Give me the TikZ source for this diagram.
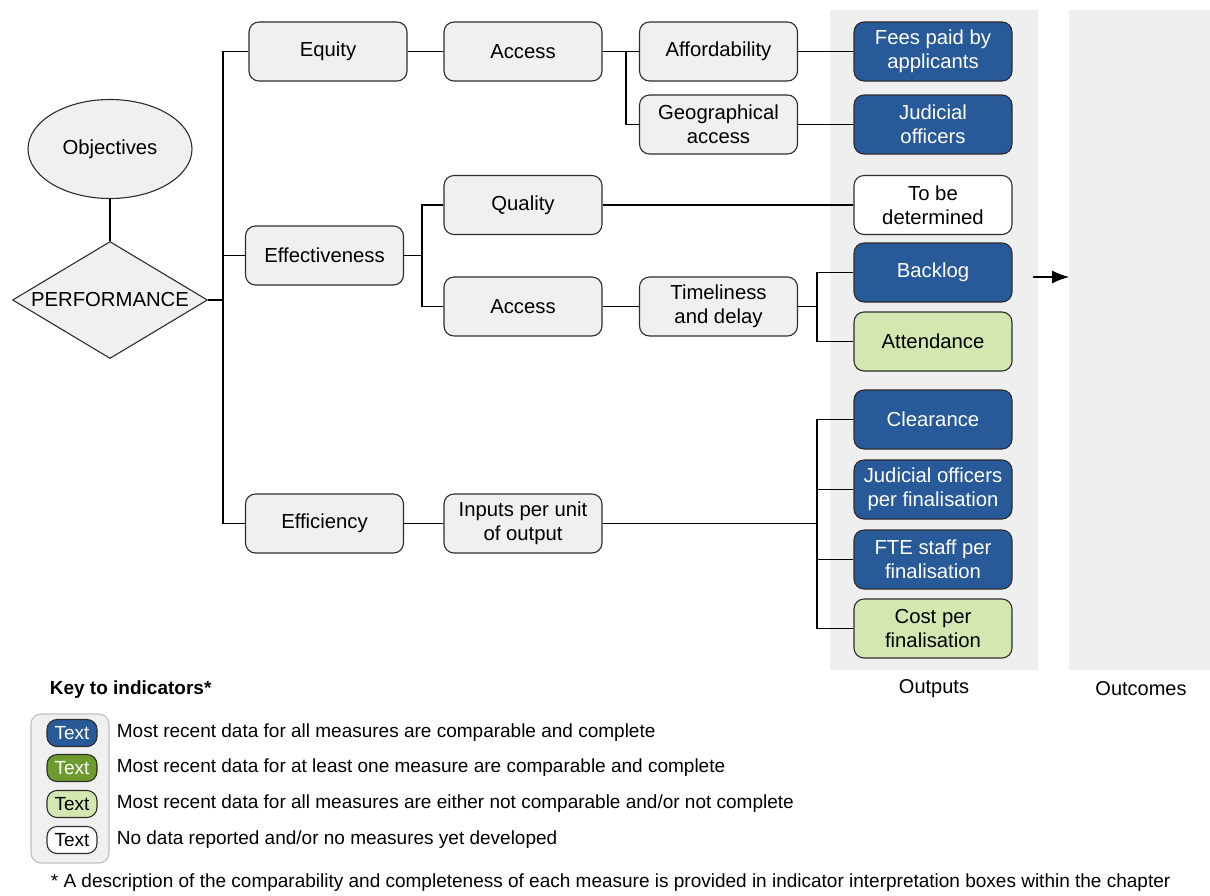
\documentclass[tikz,border=0pt]{standalone}
\usepackage{fontspec}
\setmainfont{Liberation Sans}
\usepackage{xcolor}
\usetikzlibrary{shapes.geometric}
\usetikzlibrary{arrows.meta}

\definecolor{boxgray}{RGB}{240,240,240}
\definecolor{panelgray}{RGB}{239,239,239}
\definecolor{indblue}{RGB}{40,90,153}
\definecolor{indgreen}{RGB}{110,155,45}
\definecolor{indlight}{RGB}{212,231,177}
\definecolor{edge}{RGB}{45,45,45}

\begin{document}
\begin{tikzpicture}[x=1pt,y=-1pt,line width=1.1pt,
	font=\fontsize{19}{23.5}\selectfont,
	box/.style={draw=edge,rounded corners=10,fill=boxgray,minimum width=158,minimum height=59,align=center,inner sep=2,font=\fontsize{20.3}{24}\selectfont},
	full/.style={box,fill=indblue,text=white},
	partial/.style={box,fill=indlight},
	none/.style={box,fill=white},
	chip/.style={draw=edge,rounded corners=10,minimum width=50,minimum height=27,inner sep=0}]

	\useasboundingbox (0,0) rectangle (1210,895);

	% output and outcome columns
	\fill[panelgray] (830,10) rectangle (1038,670);
	\fill[panelgray] (1069,10) rectangle (1210,670);
	\node[font=\fontsize{20}{24}\selectfont] (outputs) at (934,689) {Outputs};
	\node[font=\fontsize{20}{24}\selectfont] (outcomes) at (1141,689) {Outcomes};

	% (objectives)
	\node[ellipse,draw=edge,fill=boxgray,minimum width=164,minimum height=99,font=\fontsize{20.3}{24}\selectfont] (obj) at (110,149) {Objectives};
	\node[diamond,draw=edge,fill=boxgray,aspect=1.67,minimum width=195,minimum height=117,inner sep=0,font=\fontsize{20.3}{24}\selectfont] (perf) at (110,300) {PERFORMANCE};
	\draw (obj) -- (perf);

	% (equity)
	\node[box] (equity) at (328,51.5) {Equity};
	\node[box] (access) at (523,51.5) {Access};
	\node[box] (afford) at (718.5,51.5) {Affordability};
	\node[box] (geo) at (718.5,124.5) {Geographical\\access};
	\node[full] (fees) at (933,51.5) {Fees paid by\\applicants};
	\node[full] (judicial) at (933,124.5) {Judicial\\officers};

	% (effectiveness)
	\node[box] (effect) at (324.5,255.5) {Effectiveness};
	\node[box] (quality) at (523,205) {Quality};
	\node[none] (tbd) at (933,205) {To be\\determined};
	\node[box] (access2) at (523,306.5) {Access};
	\node[box] (timely) at (718.5,306.5) {Timeliness\\and delay};
	\node[full] (backlog) at (933,272.5) {Backlog};
	\node[partial] (attend) at (933,341.5) {Attendance};

	% (efficiency)
	\node[box] (efficiency) at (324.5,523.5) {Efficiency};
	\node[box] (inputs) at (523,523.5) {Inputs per unit\\of output};
	\node[full] (clear) at (933,419.5) {Clearance};
	\node[full] (jofinal) at (933,489.5) {Judicial officers\\per finalisation};
	\node[full] (ftefinal) at (933,559.5) {FTE staff per\\finalisation};
	\node[partial] (costfinal) at (933,628.5) {Cost per\\finalisation};

	% connectors
	\coordinate (trunk) at (223,300);
	\draw (perf.east) -- (trunk);
	\draw (trunk) |- (equity.west);
	\draw (trunk) |- (efficiency.west);
	\draw (trunk |- effect) -- (effect);

	\draw (equity) -- (access);
	\coordinate (accfork) at (626,51.5);
	\draw (access) -- (accfork) -- (afford);
	\draw (accfork) |- (geo.west);
	\draw (afford) -- (fees);
	\draw (geo) -- (judicial);

	\coordinate (effork) at (422,255.5);
	\draw (effect) -- (effork);
	\draw (effork) |- (quality.west);
	\draw (effork) |- (access2.west);
	\draw (quality) -- (tbd);
	\draw (access2) -- (timely);
	\coordinate (timefork) at (817,306.5);
	\draw (timely) -- (timefork);
	\draw (timefork) |- (backlog.west);
	\draw (timefork) |- (attend.west);

	\draw (efficiency) -- (inputs);
	\coordinate (infork) at (817,523.5);
	\draw (inputs) -- (infork);
	\foreach \n in {clear,jofinal,ftefinal,costfinal}
		\draw (infork) |- (\n.west);

	% outputs lead to outcomes
	\coordinate (arrowtail) at (1033,277);
	\coordinate (arrowhead) at (1069,277);
	\draw[-{Latex[length=17pt,width=13pt]}] (arrowtail) -- (arrowhead);

	% key
	\node[anchor=west,font=\fontsize{19}{23.5}\selectfont\bfseries] (keytitle) at (46,690) {Key to indicators*};
	\node[draw=black!25,fill=boxgray,rounded corners=10,minimum width=78,minimum height=149] (keypanel) at (70,788.5) {};
	\node[chip,fill=indblue,text=white] (chip1) at (72,733) {Text};
	\node[chip,fill=indgreen,text=white] (chip2) at (72,768) {Text};
	\node[chip,fill=indlight] (chip3) at (72,804) {Text};
	\node[chip,fill=white] (chip4) at (72,840) {Text};
	\node[anchor=west] (key1) at (113,733) {Most recent data for all measures are comparable and complete};
	\node[anchor=west] (key2) at (113,768) {Most recent data for at least one measure are comparable and complete};
	\node[anchor=west] (key3) at (113,804) {Most recent data for all measures are either not comparable and/or not complete};
	\node[anchor=west] (key4) at (113,840) {No data reported and/or no measures yet developed};
	\node[anchor=west] (footnote) at (47,883) {* A description of the comparability and completeness of each measure is provided in indicator interpretation boxes within the chapter};

\end{tikzpicture}
\end{document}
